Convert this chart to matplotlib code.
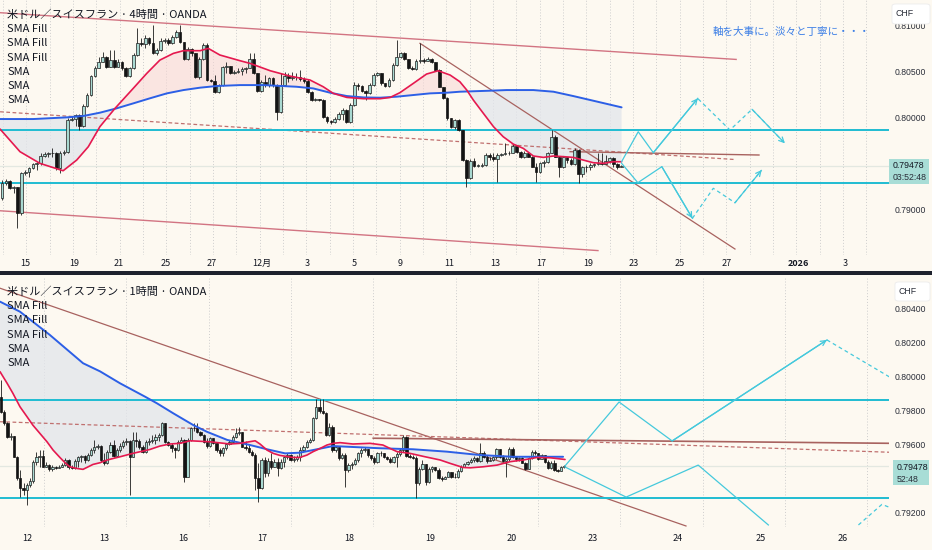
import matplotlib
matplotlib.use("Agg")
import matplotlib.pyplot as plt
import numpy as np
from matplotlib.patches import Rectangle, FancyBboxPatch

plt.rcParams['font.family'] = ['Noto Sans CJK JP', 'DejaVu Sans']

W, H = 932, 550
BG = '#fdf9f1'
INK = '#131722'
UP = '#a9d9d1'
DOWN = '#141414'
EDGE = '#1c1c1c'
RED = '#e5194f'
BLUE = '#2c5fe6'
CYAN = '#1fbcd2'
PROJ = '#45c9dc'
CHAN = '#d27482'
TREND = '#a8625f'
AXFONT = 'Liberation Sans'

# ---------------- 4h panel (prices in 1e-5 CHF) ----------------
top_first_open = 79127
top_close = [
    79290, 79319, 79236, 79254, 78971, 79399, 79413, 79453, 79496, 79507,
    79587, 79609, 79616, 79623, 79453, 79623, 79634, 79978, 79993, 80029,
    79913, 80130, 80249, 80457, 80547, 80612, 80659, 80558, 80630, 80558,
    80612, 80540, 80457, 80540, 80685, 80819, 80804, 80866, 80811, 80703,
    80739, 80840, 80848, 80811, 80877, 80938, 80829, 80638, 80746, 80703,
    80442, 80638, 80793, 80413, 80406, 80286, 80358, 80558, 80565, 80493,
    80503, 80514, 80529, 80540, 80638, 80493, 80297, 80395, 80358, 80431,
    80358, 80069, 80358, 80457, 80431, 80449, 80442, 80420, 80406, 80286,
    80195, 80203, 80195, 80014, 79971, 79960, 79985, 80043, 80087, 79960,
    80141, 80358, 80348, 80297, 80275, 80358, 80467, 80485, 80377, 80351,
    80413, 80576, 80666, 80703, 80638, 80540, 80529, 80623, 80630, 80623,
    80645, 80605, 80522, 80340, 80214, 79996, 79898, 79978, 79869, 79543,
    79344, 79536, 79478, 79482, 79489, 79598, 79580, 79551, 79598, 79605,
    79616, 79623, 79696, 79634, 79573, 79623, 79580, 79471, 79417, 79507,
    79525, 79623, 79797, 79580, 79471, 79573, 79543, 79500, 79652, 79391,
    79464, 79471, 79486, 79500, 79515, 79500, 79529, 79565, 79500, 79464,
    79478]
top_high = [
    79326, 79333, 79326, 79265, 79236, 79417, 79435, 79471, 79515, 79525,
    79616, 79634, 79634, 79670, 79634, 79645, 79652, 79996, 80022, 80043,
    80040, 80152, 80268, 80467, 80565, 80666, 80721, 80674, 80739, 80739,
    80638, 80623, 80558, 80558, 80703, 80974, 80866, 80902, 80884, 81011,
    80757, 80866, 80866, 80866, 80902, 80956, 81011, 80829, 80768, 80757,
    80703, 80659, 80811, 80811, 80420, 80467, 80369, 80565, 80612, 80522,
    80522, 80540, 80558, 80558, 80703, 80703, 80493, 80413, 80467, 80449,
    80442, 80369, 80485, 80503, 80485, 80503, 80485, 80522, 80449, 80420,
    80297, 80214, 80210, 80203, 80022, 79978, 80014, 80069, 80105, 80094,
    80159, 80395, 80377, 80358, 80304, 80377, 80485, 80503, 80493, 80384,
    80431, 80594, 80848, 80721, 80721, 80638, 80565, 80638, 80811, 80648,
    80659, 80648, 80612, 80529, 80340, 80224, 80004, 79985, 79985, 79869,
    79551, 79551, 79562, 79500, 79507, 79616, 79616, 79616, 79616, 79623,
    79724, 79645, 79717, 79706, 79641, 79641, 79634, 79587, 79507, 79525,
    79543, 79634, 79869, 79815, 79587, 79587, 79580, 79562, 79670, 79659,
    79478, 79489, 79507, 79515, 79616, 79616, 79598, 79580, 79573, 79515,
    79489]
top_low = [
    79109, 79272, 79225, 79189, 78800, 78946, 79380, 79362, 79442, 79435,
    79489, 79573, 79580, 79573, 79435, 79406, 79598, 79616, 79971, 79913,
    79869, 79906, 80123, 80239, 80449, 80540, 80605, 80540, 80551, 80540,
    80551, 80522, 80449, 80442, 80529, 80674, 80782, 80757, 80793, 80695,
    80685, 80732, 80819, 80793, 80804, 80866, 80819, 80630, 80630, 80674,
    80431, 80420, 80630, 80406, 80391, 80275, 80275, 80348, 80485, 80478,
    80478, 80493, 80467, 80485, 80540, 80478, 80286, 80286, 80340, 80340,
    80340, 79978, 80058, 80358, 80395, 80413, 80413, 80406, 80384, 80275,
    80188, 80188, 80185, 79996, 79942, 79935, 79949, 79978, 79978, 79949,
    79949, 80130, 80304, 80286, 80195, 80261, 80348, 80457, 80358, 80333,
    80340, 80406, 80565, 80648, 80630, 80529, 80522, 80522, 80601, 80601,
    80616, 80594, 80514, 80333, 80203, 79978, 79887, 79877, 79858, 79536,
    79254, 79333, 79471, 79464, 79471, 79482, 79543, 79536, 79308, 79587,
    79598, 79598, 79616, 79623, 79562, 79562, 79573, 79464, 79308, 79406,
    79471, 79515, 79616, 79573, 79362, 79453, 79515, 79489, 79489, 79290,
    79362, 79413, 79435, 79471, 79489, 79489, 79500, 79515, 79471, 79442,
    79464]

top_red_x = [-0.5, 4.65, 9.8, 15.8, 19.3, 22.3, 25.3, 29.2, 33.9, 37.4, 40.8, 44.3,
             46.9, 51.2, 53.3, 56.3, 61.5, 64.1, 69.3, 74.4, 79.6, 83.0, 85.6, 89.1,
             93.4, 97.7, 100.3, 102.8, 106.3, 109.7, 112.7, 115.8, 118.3, 120.1, 121.8,
             124.4, 127.0, 129.5, 132.1, 134.7, 137.3, 139.9, 142.5, 145.1, 147.6,
             150.2, 152.8, 155.4, 158.0, 160.1]
top_red = [79880, 79634, 79507, 79427, 79543, 79688, 79906, 80105, 80322, 80485, 80630,
           80703, 80732, 80732, 80757, 80685, 80623, 80594, 80514, 80456, 80413, 80340,
           80268, 80224, 80210, 80210, 80224, 80275, 80377, 80478, 80514, 80467, 80395,
           80304, 80195, 80050, 79906, 79797, 79717, 79670, 79587, 79572, 79587, 79580,
           79572, 79543, 79514, 79507, 79525, 79525]
top_blue_x = [-0.5, 8.1, 16.7, 21.0, 25.3, 29.6, 33.9, 38.2, 42.6, 46.9, 51.2, 55.5,
              61.5, 67.5, 76.1, 80.4, 84.8, 89.1, 93.4, 97.7, 102.0, 106.3, 110.6,
              114.9, 118.3, 126.1, 130.4, 137.3, 142.5, 147.6, 152.8, 160.1]
top_blue = [79989, 79989, 80007, 80022, 80058, 80105, 80159, 80214, 80268, 80304, 80330,
            80348, 80358, 80358, 80340, 80322, 80275, 80239, 80224, 80221, 80232, 80250,
            80268, 80275, 80286, 80297, 80304, 80304, 80286, 80239, 80188, 80116]

top_ticks = [5.9, 18.6, 30.2, 42.4, 54.3, 67.2, 78.8, 91.0, 102.8, 115.5, 127.4, 139.3,
             151.4, 163.3, 175.2, 187.3, 205.7, 217.8]
top_tick_labels = ['15', '19', '21', '25', '27', '12月', '3', '5', '9', '11', '13', '17',
                   '19', '23', '25', '27', '2026', '3']
top_price_ticks = [0.81, 0.805, 0.80, 0.79]

# drawn lines (bar index, price)
top_chan_hi = ([-0.5, 189.7], [81145, 80637])
top_chan_lo = ([-0.5, 154.0], [78992, 78559])
top_trend = ([108.0, 189.4], [80812, 78576])
top_dotted = ([-0.5, 189.4], [80068, 79549])
top_flat = ([146.8, 195.6], [79634, 79598])
top_up_path = ([160.1, 164.4, 168.3, 179.8], [79525, 79851, 79623, 80214])
top_dn_path = ([160.1, 164.3, 170.5, 178.4], [79508, 79297, 79471, 78910])
top_up_dash = ([179.9, 188.1, 193.8, 202.3], [80207, 79870, 80095, 79725])
top_dn_dash = ([178.4, 183.8, 189.4, 196.3], [78910, 79236, 79079, 79435])

levels = [79870, 79292]
last_price = 0.79478

# ---------------- 1h panel ----------------
bot_first_open = 79888
bot_close = [
    79800, 79731, 79653, 79657, 79535, 79408, 79349, 79339, 79368, 79394,
    79506, 79531, 79539, 79476, 79486, 79461, 79476, 79468, 79476, 79488,
    79516, 79472, 79466, 79512, 79531, 79539, 79516, 79545, 79574, 79590,
    79598, 79516, 79496, 79565, 79604, 79539, 79574, 79598, 79623, 79629,
    79535, 79633, 79629, 79590, 79565, 79623, 79629, 79633, 79653, 79663,
    79731, 79623, 79604, 79584, 79574, 79623, 79633, 79417, 79633, 79702,
    79706, 79682, 79663, 79623, 79598, 79643, 79614, 79574, 79555, 79584,
    79610, 79623, 79653, 79676, 79682, 79594, 79584, 79565, 79545, 79408,
    79349, 79516, 79437, 79512, 79476, 79506, 79466, 79506, 79531, 79545,
    79516, 79519, 79535, 79574, 79594, 79623, 79633, 79761, 79829, 79806,
    79794, 79663, 79712, 79574, 79590, 79525, 79545, 79457, 79486, 79492,
    79516, 79555, 79574, 79578, 79545, 79525, 79506, 79559, 79555, 79531,
    79523, 79506, 79531, 79551, 79574, 79653, 79539, 79535, 79529, 79378,
    79461, 79492, 79388, 79461, 79472, 79457, 79408, 79402, 79414, 79445,
    79417, 79414, 79453, 79476, 79492, 79504, 79516, 79529, 79512, 79559,
    79535, 79508, 79516, 79531, 79578, 79531, 79508, 79519, 79582, 79531,
    79519, 79525, 79500, 79461, 79527, 79563, 79559, 79523, 79543, 79506,
    79466, 79500, 79457, 79453, 79472, 79480]
bot_high = [
    79986, 79810, 79741, 79672, 79657, 79539, 79457, 79378, 79382, 79408,
    79516, 79565, 79574, 79574, 79506, 79490, 79486, 79480, 79486, 79496,
    79525, 79519, 79486, 79519, 79539, 79545, 79545, 79555, 79584, 79633,
    79610, 79604, 79555, 79574, 79623, 79633, 79584, 79614, 79633, 79643,
    79633, 79682, 79682, 79637, 79604, 79633, 79643, 79663, 79668, 79676,
    79741, 79735, 79629, 79614, 79594, 79633, 79653, 79637, 79643, 79712,
    79735, 79731, 79688, 79667, 79643, 79653, 79643, 79623, 79584, 79594,
    79618, 79633, 79663, 79702, 79712, 79682, 79629, 79604, 79574, 79555,
    79496, 79525, 79531, 79525, 79555, 79519, 79525, 79519, 79539, 79555,
    79551, 79539, 79545, 79590, 79604, 79633, 79643, 79770, 79872, 79872,
    79872, 79800, 79731, 79721, 79598, 79590, 79555, 79555, 79496, 79506,
    79525, 79565, 79584, 79590, 79578, 79545, 79539, 79565, 79570, 79559,
    79539, 79531, 79539, 79565, 79584, 79663, 79657, 79551, 79545, 79539,
    79472, 79516, 79492, 79472, 79480, 79476, 79466, 79421, 79421, 79453,
    79447, 79437, 79461, 79484, 79500, 79512, 79525, 79539, 79531, 79614,
    79567, 79543, 79531, 79539, 79584, 79582, 79545, 79531, 79594, 79594,
    79539, 79535, 79531, 79506, 79535, 79574, 79574, 79555, 79551, 79545,
    79516, 79512, 79516, 79465, 79480, 79488]
bot_low = [
    79794, 79721, 79643, 79633, 79531, 79398, 79300, 79310, 79251, 79355,
    79382, 79486, 79476, 79472, 79472, 79453, 79453, 79461, 79466, 79472,
    79480, 79465, 79461, 79461, 79472, 79506, 79496, 79512, 79539, 79555,
    79578, 79506, 79486, 79492, 79559, 79531, 79535, 79565, 79584, 79604,
    79310, 79531, 79594, 79578, 79559, 79559, 79604, 79614, 79610, 79629,
    79657, 79618, 79598, 79565, 79525, 79570, 79614, 79388, 79414, 79629,
    79688, 79676, 79657, 79618, 79584, 79594, 79610, 79565, 79539, 79539,
    79574, 79604, 79618, 79643, 79663, 79590, 79574, 79559, 79539, 79339,
    79270, 79343, 79417, 79421, 79465, 79472, 79421, 79461, 79476, 79519,
    79512, 79506, 79512, 79512, 79565, 79584, 79614, 79629, 79755, 79794,
    79786, 79657, 79657, 79565, 79565, 79516, 79519, 79359, 79447, 79461,
    79486, 79506, 79531, 79565, 79535, 79516, 79492, 79500, 79539, 79525,
    79516, 79500, 79500, 79476, 79539, 79565, 79531, 79525, 79519, 79290,
    79368, 79457, 79368, 79382, 79447, 79453, 79402, 79394, 79408, 79414,
    79410, 79410, 79410, 79447, 79472, 79484, 79496, 79504, 79506, 79506,
    79527, 79500, 79508, 79512, 79523, 79527, 79504, 79417, 79512, 79527,
    79512, 79512, 79496, 79457, 79461, 79523, 79543, 79516, 79519, 79500,
    79461, 79465, 79453, 79447, 79453, 79468]

bot_red_x = [-0.3, 1.9, 3.7, 5.9, 8.1, 9.9, 12.1, 14.3, 16.2, 18.3, 19.9, 21.4, 23.6,
             25.5, 28.6, 30.8, 33.0, 37.0, 41.0, 46.3, 49.4, 52.5, 55.6, 58.8, 65.0,
             71.2, 74.3, 79.0, 80.5, 82.7, 84.6, 86.7, 90.8, 92.9, 95.1, 97.0, 99.2,
             101.3, 103.2, 105.4, 109.4, 114.7, 118.7, 120.9, 123.1, 127.1, 131.8,
             136.5, 139.6, 143.6, 145.8, 149.8, 154.2, 158.2, 162.3, 166.6, 170.7, 175.3]
bot_red = [80035, 79967, 79908, 79829, 79770, 79721, 79672, 79623, 79574, 79531, 79500,
           79476, 79466, 79461, 79490, 79500, 79516, 79535, 79555, 79578, 79598, 79610,
           79614, 79629, 79623, 79610, 79614, 79629, 79610, 79574, 79555, 79543, 79531,
           79531, 79545, 79565, 79584, 79604, 79614, 79618, 79610, 79614, 79604, 79584,
           79565, 79555, 79535, 79516, 79496, 79472, 79470, 79476, 79486, 79506, 79516,
           79531, 79529, 79519]
bot_blue_x = [-0.3, 5.9, 15.2, 25.5, 30.8, 37.0, 44.8, 48.5, 53.5, 59.7, 64.0, 70.3,
              77.4, 82.7, 88.3, 92.9, 103.2, 107.6, 117.8, 128.1, 138.6, 148.9, 159.2, 174.7]
bot_blue = [80447, 80388, 80251, 80085, 80037, 79967, 79888, 79849, 79791, 79722, 79682,
            79634, 79604, 79579, 79555, 79559, 79598, 79594, 79585, 79579, 79565, 79545,
            79535, 79535]

bot_ticks = [8.1, 32.0, 56.6, 81.1, 108.2, 133.4, 158.8, 184.0, 210.4, 236.2, 261.7]
bot_tick_labels = ['12', '13', '16', '17', '18', '19', '20', '23', '24', '25', '26']
bot_price_ticks = [0.804, 0.802, 0.800, 0.798, 0.796, 0.792]

bot_trend = ([-0.3, 212.9], [80526, 79128])
bot_dotted = ([-0.3, 277.0], [79741, 79561])
bot_flat = ([115.7, 276.9], [79644, 79614])
bot_up_path = ([175.3, 192.1, 208.6, 256.7], [79481, 79857, 79628, 80222])
bot_dn_path = ([175.3, 194.3, 216.7, 238.5], [79475, 79298, 79486, 79134])
bot_up_dash = ([256.7, 276.9], [80222, 79996])
bot_dn_dash = ([266.5, 273.8, 276.9], [79134, 79255, 79232])

top_legend = ['米ドル／スイスフラン · 4時間 · OANDA', 'SMA Fill', 'SMA Fill', 'SMA Fill',
              'SMA', 'SMA', 'SMA']
bot_legend = ['米ドル／スイスフラン · 1時間 · OANDA', 'SMA Fill', 'SMA Fill', 'SMA Fill',
              'SMA', 'SMA']
memo = '軸を大事に。淡々と丁寧に・・・'


def px_rect(x0, y0, x1, y1):
    return [x0 / W, 1 - y1 / H, (x1 - x0) / W, (y1 - y0) / H]


def fx(x):
    return x / W


def fy(y):
    return 1 - y / H


def candles(ax, first_open, closes, highs, lows, min_body):
    c = np.array(closes) / 1e5
    o = np.r_[first_open / 1e5, c[:-1]]
    h = np.maximum(np.array(highs) / 1e5, np.maximum(o, c))
    l = np.minimum(np.array(lows) / 1e5, np.minimum(o, c))
    x = np.arange(len(c))
    up = c >= o
    ax.vlines(x, l, h, color=EDGE, lw=0.6, zorder=5)
    bottom = np.minimum(o, c)
    height = np.maximum(np.abs(c - o), min_body)
    ax.bar(x[up], height[up], bottom=bottom[up], width=0.7, color=UP,
           edgecolor=EDGE, linewidth=0.5, zorder=6)
    ax.bar(x[~up], height[~up], bottom=bottom[~up], width=0.7, color=DOWN,
           edgecolor=DOWN, linewidth=0.5, zorder=6)


def sma(ax, rx, rp, bx, bp):
    rp = np.array(rp) / 1e5
    bp = np.array(bp) / 1e5
    xs = np.linspace(max(rx[0], bx[0]), min(rx[-1], bx[-1]), 900)
    r = np.interp(xs, rx, rp)
    b = np.interp(xs, bx, bp)
    ax.fill_between(xs, r, b, where=r >= b, interpolate=True, color='#f8d6d4',
                    alpha=0.55, lw=0, zorder=1)
    ax.fill_between(xs, r, b, where=r < b, interpolate=True, color='#e2e5eb',
                    alpha=0.75, lw=0, zorder=1)
    ax.plot(bx, bp, color=BLUE, lw=1.4, zorder=7, solid_capstyle='round')
    ax.plot(rx, rp, color=RED, lw=1.2, zorder=7, solid_capstyle='round')


def line(ax, pts, color, lw=0.9, ls='-', z=3):
    ax.plot(pts[0], np.array(pts[1]) / 1e5, color=color, lw=lw, ls=ls, zorder=z)


def arrow_path(ax, pts, ls='-', head=True):
    xs, ps = pts[0], np.array(pts[1]) / 1e5
    ax.plot(xs, ps, color=PROJ, lw=0.9, ls=ls, zorder=8)
    if head:
        ax.annotate('', xy=(xs[-1], ps[-1]), xytext=(xs[-2], ps[-2]),
                    arrowprops=dict(arrowstyle='->', color=PROJ, lw=0.9,
                                    mutation_scale=9, shrinkA=0, shrinkB=0),
                    zorder=8, annotation_clip=False)


def setup(ax, xlim, ylim, ticks, labels, price_ticks, grid0, gstep):
    ax.set_facecolor(BG)
    ax.set_xlim(*xlim)
    ax.set_ylim(*ylim)
    for s in ax.spines.values():
        s.set_visible(False)
    ax.set_yticks([])
    ax.set_xticks(ticks, labels, fontsize=6.5, color=INK)
    ax.tick_params(axis='x', length=0, pad=3)
    for t in ax.get_xticklabels():
        if t.get_text() == '2026':
            t.set_fontweight('bold')
    ax.vlines(np.arange(grid0, xlim[1], gstep), ylim[0], ylim[1], colors='#cdcdcd',
              linestyles=(0, (1, 2)), lw=0.7, zorder=0)
    ax.axhline(last_price, color='#e3e8e1', lw=0.9, zorder=0.5)
    for p in price_ticks:
        ax.text(895 / 889, p, f'{p:.5f}', transform=ax.get_yaxis_transform(),
                fontsize=6.2, color='#2a2e39', ha='left', va='center',
                family=AXFONT, clip_on=False)
    for lv in levels:
        ax.axhline(lv / 1e5, color=CYAN, lw=1.4, zorder=4)


fig = plt.figure(figsize=(W / 100, H / 100), dpi=100, facecolor=BG)
ax1 = fig.add_axes(px_rect(0, 0, 889, 255))
ax2 = fig.add_axes(px_rect(0, 277, 889, 527))

# ---- top (4h)
setup(ax1, (-0.517, 229.2), (0.78511, 0.81283), top_ticks, top_tick_labels,
      top_price_ticks, 0.26, 6.03)
line(ax1, top_chan_hi, CHAN, lw=1.0)
line(ax1, top_chan_lo, CHAN, lw=1.0)
line(ax1, top_trend, TREND, lw=0.9)
line(ax1, top_dotted, '#c0706f', lw=0.9, ls=(0, (3, 2)))
line(ax1, top_flat, TREND, lw=1.0)
sma(ax1, top_red_x, top_red, top_blue_x, top_blue)
candles(ax1, top_first_open, top_close, top_high, top_low, 0.00008)
arrow_path(ax1, top_up_path)
arrow_path(ax1, top_dn_path)
arrow_path(ax1, top_up_dash, ls=(0, (3, 2.5)))
arrow_path(ax1, top_dn_dash, ls=(0, (3, 2.5)))

# ---- bottom (1h)
setup(ax2, (-0.311, 276.0), (0.79122, 0.80592), bot_ticks, bot_tick_labels,
      bot_price_ticks, 13.4, 25.58)
ax2.tick_params(axis='x', pad=5)
line(ax2, bot_trend, TREND, lw=0.9)
line(ax2, bot_dotted, '#c0706f', lw=0.9, ls=(0, (3, 2)))
line(ax2, bot_flat, TREND, lw=1.2)
sma(ax2, bot_red_x, bot_red, bot_blue_x, bot_blue)
candles(ax2, bot_first_open, bot_close, bot_high, bot_low, 0.00004)
arrow_path(ax2, bot_up_path)
arrow_path(ax2, bot_dn_path, head=False)
arrow_path(ax2, bot_up_dash, ls=(0, (3, 2.5)), head=False)
arrow_path(ax2, bot_dn_dash, ls=(0, (3, 2.5)), head=False)

# ---- legends and notes
for i, t in enumerate(top_legend):
    fig.text(fx(7), fy(15 + 14.2 * i), t, fontsize=8, color=INK, va='center')
for i, t in enumerate(bot_legend):
    fig.text(fx(7), fy(292 + 14.2 * i), t, fontsize=8, color=INK, va='center')
fig.text(fx(713), fy(32), memo, fontsize=7.6, color='#3d7fe6', va='center')

# panel separator
fig.patches.append(Rectangle((0, fy(275)), 1, 4 / H, transform=fig.transFigure,
                             facecolor='#1e222d', edgecolor='none', zorder=5))

# currency boxes
for (x0, y0, x1, y1) in [(892, 4, 930, 24), (895, 282, 930, 301)]:
    fig.patches.append(FancyBboxPatch((fx(x0), fy(y1)), (x1 - x0) / W, (y1 - y0) / H,
                                      boxstyle='round,pad=0,rounding_size=0.004',
                                      transform=fig.transFigure, facecolor='white',
                                      edgecolor='#ececec', lw=0.6, zorder=5))
fig.text(fx(904.5), fy(14), 'CHF', fontsize=6.3, color='#2a2e39', ha='center',
         va='center', family=AXFONT, zorder=6)
fig.text(fx(907.5), fy(291), 'CHF', fontsize=6.3, color='#2a2e39', ha='center',
         va='center', family=AXFONT, zorder=6)

# last price boxes
for (x0, y0, x1, y1, t2) in [(889, 159, 929, 183.5, '03:52:48'),
                             (892.5, 460, 929, 484.5, '52:48')]:
    fig.patches.append(Rectangle((fx(x0), fy(y1)), (x1 - x0) / W, (y1 - y0) / H,
                                 transform=fig.transFigure, facecolor='#a8ddd6',
                                 edgecolor='none', zorder=5))
    fig.text(fx(x0 + 4), fy(y0 + 7), f'{last_price:.5f}', fontsize=6.3, color=INK,
             ha='left', va='center', family=AXFONT, zorder=6)
    fig.text(fx(x0 + 4), fy(y0 + 19), t2, fontsize=6.3, color='#2a2e39',
             ha='left', va='center', family=AXFONT, zorder=6)

fig.savefig('out.png', dpi=100, facecolor=BG)
